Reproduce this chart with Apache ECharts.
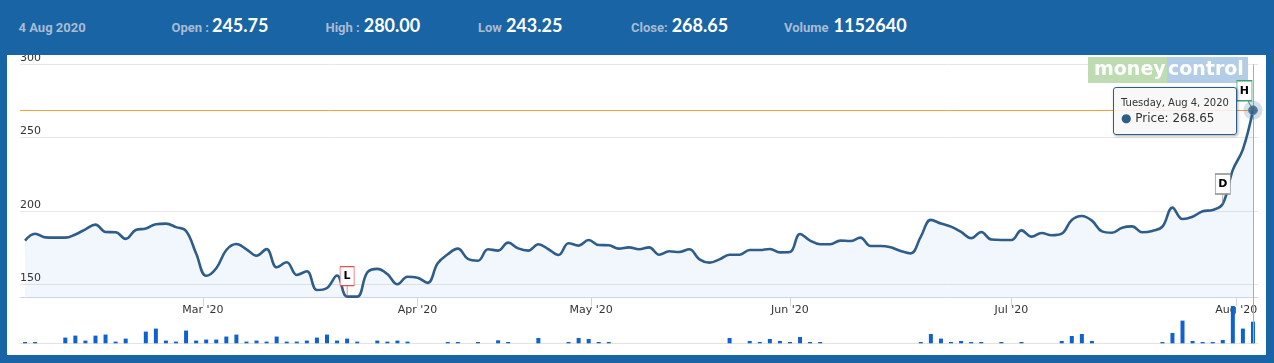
<!DOCTYPE html>
<html>
<head>
<meta charset="utf-8">
<script src="https://cdn.jsdelivr.net/npm/echarts@6/dist/echarts.min.js"></script>
<style>
html,body{margin:0;padding:0;background:#1864a4;}
#wrap{position:relative;width:1274px;height:363px;overflow:hidden;background:#1864a4;}
#panel{position:absolute;left:7.4px;top:54.5px;width:1258.6px;height:300.5px;background:#fff;}
#chart{position:absolute;left:0;top:0;width:1274px;height:363px;}
#hdr{position:absolute;left:0;top:0;width:1274px;height:54.5px;background:#1864a4;z-index:20;}
.it{position:absolute;top:13px;white-space:nowrap;line-height:24px;font-family:Lato;font-size:18px;}
.lb{font-family:Roboto;font-weight:700;font-size:13px;color:#a9bbd2;}
.vl{font-family:Lato;font-weight:700;font-size:18px;color:#fff;}
</style>
</head>
<body>
<div id="wrap">
  <div id="panel"></div>
  <div id="chart"></div>
  <div id="hdr"></div>
</div>
<script>
// ---------- data ----------
const febDays = [4,5,6,7,10,11,12,13,14,17,18,19,20,24,25,26,27,28];
const marDays = [2,3,4,5,6,9,11,12,13,16,17,18,19,20,23,24,25,26,27,30,31];
const aprDays = [1,3,7,8,9,13,15,16,17,20,21,22,23,24,27,28,29,30];
const mayDays = [4,5,6,7,8,11,12,13,14,15,18,19,20,21,22,26,27,28,29];
const junDays = [1,2,3,4,5,8,9,10,11,12,15,16,17,18,19,22,23,24,25,26,29,30];
const julDays = [1,2,3,6,7,8,9,10,13,14,15,16,17,20,21,22,23,24,27,28,29,30,31];
const augDays = [3,4];

const prices = [
 179.8,184.5,182,181.8,181.8,184,187.5,190.7,185.7,185.5,
 181,187,188,191,191.4,189,186.4,171,155.8,161,
 173.4,177.5,173.9,169.5,174,161.6,165,156.4,158.9,146.1,
 147.5,156,141.6,141.6,158,160.5,157,150,155.2,154.5,
 151,164.3,170.5,174.3,167.3,166.1,173.9,173,178.4,174.5,
 173,177.3,173.9,170,178,176.4,180.2,176.8,176.6,174.3,
 175.2,173.9,175.2,170.2,172.5,172,173.9,167,164.8,167,
 170.2,170.2,173.4,173.4,174.1,171.8,172,184.3,179.8,177.3,
 177.3,179.8,179.5,181.8,176.1,176.1,175.2,172.7,171.1,182.5,
 193.9,191.4,189.3,185.7,181.4,185.7,180.5,180.2,180.2,186.8,
 182.5,185,183.4,184.5,193.9,196.6,193.4,186.1,185.2,188.6,
 189.5,185.5,186.4,189.3,202.3,194.5,196.1,199.8,200.7,204.8,
 228,242,268.65
];

const volumes = [
 70000,70000,0,0,305000,410000,145000,410000,465000,90000,
 250000,0,625000,785000,145000,90000,680000,145000,200000,200000,
 360000,465000,90000,145000,90000,360000,90000,90000,145000,305000,
 465000,145000,250000,90000,0,145000,90000,145000,90000,0,
 0,0,70000,70000,0,70000,0,160000,70000,0,
 0,285000,0,0,70000,285000,230000,70000,70000,0,
 0,0,0,0,0,0,0,0,0,0,
 285000,0,125000,70000,230000,125000,70000,335000,70000,70000,
 0,0,0,0,0,0,0,0,0,70000,
 495000,250000,70000,125000,70000,70000,0,70000,0,70000,
 0,0,0,125000,390000,495000,125000,0,0,0,
 0,0,0,70000,550000,1210000,125000,70000,70000,175000,
 1990000,785000,1152640
];

const yTicks = [150, 200, 250, 300];
const tickMonths = ['2020-03','2020-04','2020-05','2020-06','2020-07','2020-08'];
const tickLabels = ["Mar '20","Apr '20","May '20","Jun '20","Jul '20","Aug '20"];

const flagDates  = ['2020-03-23','2020-07-30','2020-08-04'];
const flagLabels = ['L','D','H'];

const headerLabels = ['Open :','High :','Low','Close:','Volume'];
const headerValues = ['245.75','280.00','243.25','268.65','1152640'];
const headerDate = '4 Aug 2020';
const logoWords = ['money', 'control'];

// ---------- build ----------
const monthBlocks = [[2,febDays],[3,marDays],[4,aprDays],[5,mayDays],[6,junDays],[7,julDays],[8,augDays]];
const dates = [];
monthBlocks.forEach(([m, ds]) => ds.forEach(d => dates.push(Date.UTC(2020, m - 1, d))));
const n = dates.length;
const last = n - 1;

function tickPosFor(ym) {
  const [y, m] = ym.split('-').map(Number);
  const t = Date.UTC(y, m - 1, 1);
  for (let i = 0; i < n; i++) {
    if (dates[i] >= t) {
      if (i === 0) return 0;
      return (i - 1) + (t - dates[i - 1]) / (dates[i] - dates[i - 1]);
    }
  }
  return last;
}
const tickPos = tickMonths.map(tickPosFor);
function labelFor(v) {
  let best = 0, bd = Infinity;
  tickPos.forEach((p, k) => { const d = Math.abs(p - v); if (d < bd) { bd = d; best = k; } });
  return tickLabels[best];
}
function idxOfDate(s) {
  const [y, m, d] = s.split('-').map(Number);
  return dates.indexOf(Date.UTC(y, m - 1, d));
}

// header
const hdr = document.getElementById('hdr');
const hdrLeft = [171.5, 325.5, 478, 631, 784];
const hdrGap = [3, 4, 4, 4, 5];
let html = '<div class="it" style="left:18.5px"><span class="lb">' + headerDate + '</span></div>';
headerLabels.forEach((l, k) => {
  html += '<div class="it" style="left:' + hdrLeft[k] + 'px"><span class="lb">' + l +
          '</span><span class="vl" style="margin-left:' + hdrGap[k] + 'px">' + headerValues[k] + '</span></div>';
});
hdr.innerHTML = html;

const LINE = '#2f5d8a';
const ORANGE = '#f2a03d';
const yMin = 141.35;
const volMax = 2470000;

const flagStyles = {
  L: {border: '#e25252', path: 'path://M0 0L14 0L14 19L0 19ZM7 19L7 30', size: [14, 30], off: [0, '-50%'], lab: [0, -5.5]},
  D: {border: '#8c8c8c', path: 'path://M0 0L15 0L15 20L0 20ZM7.5 20L7.5 30', size: [15, 30], off: [0, '-50%'], lab: [0, -5]},
  H: {border: '#3f9f6e', path: 'path://M0 0L15 0L15 20L0 20ZM11 20L16 29.5', size: [16, 29.5], off: ['-50%', '-50%'], lab: [-0.5, -4.75]}
};
const flagData = flagDates.map((ds, k) => {
  const i = idxOfDate(ds);
  const st = flagStyles[flagLabels[k]];
  return {
    coord: [i, prices[i]],
    symbol: st.path, symbolSize: st.size, symbolOffset: st.off,
    itemStyle: {color: '#fff', borderColor: st.border, borderWidth: 1},
    label: {show: true, formatter: flagLabels[k], position: 'inside', offset: st.lab,
            color: '#000', fontWeight: 'bold', fontSize: 11, fontFamily: 'DejaVu Sans'}
  };
});

const WEEK = ['Sunday','Monday','Tuesday','Wednesday','Thursday','Friday','Saturday'];
const MON = ['Jan','Feb','Mar','Apr','May','Jun','Jul','Aug','Sep','Oct','Nov','Dec'];
function fmtDate(t) {
  const d = new Date(t);
  return WEEK[d.getUTCDay()] + ', ' + MON[d.getUTCMonth()] + ' ' + d.getUTCDate() + ', ' + d.getUTCFullYear();
}

const chart = echarts.init(document.getElementById('chart'), null, {renderer: 'canvas'});
chart.setOption({
  animation: false,
  backgroundColor: 'transparent',
  textStyle: {fontFamily: 'DejaVu Sans'},
  graphic: [
    {type: 'rect', z: 1, silent: true, shape: {x: 1088, y: 57, width: 79, height: 26}, style: {fill: '#bddcb1'}},
    {type: 'rect', z: 1, silent: true, shape: {x: 1167, y: 57, width: 81, height: 26}, style: {fill: '#b4cde7'}},
    {type: 'text', z: 1, silent: true, x: 1094, y: 70, style: {text: logoWords[0], fill: '#fff', font: 'bold 19px "DejaVu Sans"', verticalAlign: 'middle'}},
    {type: 'text', z: 1, silent: true, x: 1168, y: 70, style: {text: logoWords[1], fill: '#fff', font: 'bold 19px "DejaVu Sans"', verticalAlign: 'middle'}}
  ],
  grid: [
    {left: 20, right: 16, top: 64.3, bottom: 66},
    {left: 20, right: 16, top: 297, bottom: 19.7}
  ],
  xAxis: [
    {gridIndex: 0, type: 'value', min: -0.5, max: n - 0.5,
     axisLine: {show: true, onZero: false, lineStyle: {color: '#ccd6eb', width: 1}},
     axisTick: {show: true, customValues: tickPos, length: 9, lineStyle: {color: '#ccd6eb'}},
     axisLabel: {show: true, customValues: tickPos, formatter: labelFor, margin: 8,
                 color: '#333', fontSize: 11, fontFamily: 'DejaVu Sans'},
     splitLine: {show: false}},
    {gridIndex: 1, type: 'value', min: -0.5, max: n - 0.5,
     axisLine: {show: true, onZero: false, lineStyle: {color: '#e3e3e3', width: 1}},
     axisTick: {show: false}, axisLabel: {show: false}, splitLine: {show: false}}
  ],
  yAxis: [
    {gridIndex: 0, type: 'value', min: yMin, max: 300,
     axisLine: {show: false},
     axisTick: {show: false, customValues: yTicks},
     axisLabel: {show: false},
     splitLine: {show: true, lineStyle: {color: '#e6e6e6', width: 1}}},
    {gridIndex: 1, type: 'value', min: 0, max: volMax, show: false, splitLine: {show: false}},
    {gridIndex: 0, type: 'value', min: yMin, max: 300, position: 'left', z: 10,
     axisLine: {show: false},
     axisTick: {show: false, customValues: yTicks},
     axisLabel: {inside: true, customValues: yTicks, margin: 0, verticalAlign: 'bottom',
                 lineHeight: 12, color: '#333', fontSize: 11, fontFamily: 'DejaVu Sans'},
     splitLine: {show: false}}
  ],
  tooltip: {
    trigger: 'item', triggerOn: 'none', alwaysShowContent: true, transitionDuration: 0,
    backgroundColor: 'rgba(247,247,247,0.88)', borderColor: LINE, borderWidth: 1, padding: [7, 7],
    extraCssText: 'border-radius:3px;box-shadow:1px 1px 3px rgba(0,0,0,0.35);',
    textStyle: {fontFamily: 'DejaVu Sans', color: '#333', fontSize: 12},
    formatter: function (p) {
      return '<div style="font-size:10px;line-height:15px;color:#333">' + fmtDate(dates[p.data[0]]) + '</div>' +
             '<div style="font-size:12px;line-height:17px;color:#333"><span style="color:' + LINE + '">\u25CF</span> Price: ' +
             p.data[1].toFixed(2) + '</div>';
    },
    position: function (pt, params, dom, rect, size) {
      return [pt[0] - size.contentSize[0] - 16, pt[1] - 23];
    }
  },
  series: [
    {type: 'line', name: 'Price', xAxisIndex: 0, yAxisIndex: 0,
     data: prices.map((p, i) => [i, p]),
     smooth: 0.4, showSymbol: false, symbol: 'none', emphasis: {disabled: true},
     lineStyle: {color: LINE, width: 2.6},
     areaStyle: {color: 'rgba(124,181,236,0.11)', opacity: 1, origin: 'start'},
     markLine: {silent: true, symbol: 'none', animation: false, label: {show: false},
                lineStyle: {color: ORANGE, width: 1, type: 'solid'},
                data: [{yAxis: prices[last]}, {xAxis: last}]},
     markPoint: {silent: true, animation: false, data: flagData}
    },
    {type: 'bar', name: 'Volume', xAxisIndex: 1, yAxisIndex: 1,
     data: volumes.map((v, i) => [i, v]), barWidth: 4,
     itemStyle: {color: '#0f62cc'}, emphasis: {disabled: true},
     markLine: {silent: true, symbol: 'none', animation: false, label: {show: false},
                lineStyle: {color: ORANGE, width: 1, type: 'solid'},
                data: [{xAxis: last}]}
    },
    {type: 'scatter', name: 'halo', xAxisIndex: 0, yAxisIndex: 0, z: 5,
     data: [[last, prices[last]]], symbol: 'circle', symbolSize: 19,
     itemStyle: {color: 'rgba(47,93,138,0.25)'}, emphasis: {disabled: true}},
    {type: 'scatter', name: 'dot', xAxisIndex: 0, yAxisIndex: 0, z: 6, silent: true,
     data: [[last, prices[last]]], symbol: 'circle', symbolSize: 9,
     itemStyle: {color: LINE, borderColor: '#5c85ab', borderWidth: 1}, emphasis: {disabled: true}}
  ]
});
chart.dispatchAction({type: 'showTip', seriesIndex: 2, dataIndex: 0});
</script>
</body>
</html>
